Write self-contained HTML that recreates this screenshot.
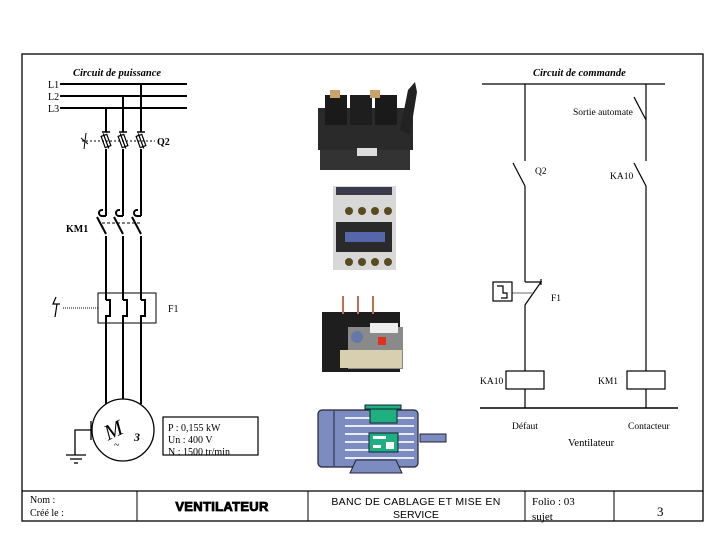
<!DOCTYPE html>
<html><head><meta charset="utf-8"><style>
html,body{margin:0;padding:0;background:#fff;}
svg{display:block;}
text{font-family:"Liberation Serif",serif;fill:#000;}
</style></head><body>
<svg width="728" height="546" viewBox="0 0 728 546" xmlns="http://www.w3.org/2000/svg">
<!-- frame -->
<rect x="22" y="54" width="681" height="467" fill="none" stroke="#000" stroke-width="1.3"/>
<line x1="22" y1="491" x2="703" y2="491" stroke="#000" stroke-width="1.3"/>
<line x1="137" y1="491" x2="137" y2="521" stroke="#000"/>
<line x1="308" y1="491" x2="308" y2="521" stroke="#000"/>
<line x1="525" y1="491" x2="525" y2="521" stroke="#000"/>
<line x1="614" y1="491" x2="614" y2="521" stroke="#000"/>
<text x="30" y="503" font-size="10">Nom :</text>
<text x="30" y="516" font-size="10">Créé le :</text>
<text x="222" y="511" font-size="13" font-weight="bold" text-anchor="middle" stroke="#000" stroke-width="0.8" style="font-family:'Liberation Sans',sans-serif;letter-spacing:0.3px">VENTILATEUR</text>
<text x="416" y="505" font-size="10.5" text-anchor="middle" style="font-family:'Liberation Sans',sans-serif;letter-spacing:0.3px">BANC DE CABLAGE ET MISE EN</text>
<text x="416" y="518" font-size="10.5" text-anchor="middle" style="font-family:'Liberation Sans',sans-serif">SERVICE</text>
<text x="532" y="505" font-size="11">Folio : 03</text>
<text x="532" y="520" font-size="11">sujet</text>
<text x="657" y="516" font-size="13">3</text>

<!-- Power circuit -->
<text x="73" y="76" font-size="10.5" font-weight="bold" font-style="italic">Circuit de puissance</text>
<g font-size="10"><text x="48" y="88">L1</text><text x="48" y="100">L2</text><text x="48" y="112">L3</text></g>
<g stroke="#000" stroke-width="2" fill="none">
<line x1="60" y1="84" x2="187" y2="84"/><line x1="60" y1="96" x2="187" y2="96"/><line x1="60" y1="108" x2="187" y2="108"/>
<line x1="141" y1="84" x2="141" y2="132"/><line x1="123" y1="96" x2="123" y2="132"/><line x1="106" y1="108" x2="106" y2="132"/>
</g>
<g stroke="#000" stroke-width="1.5">
<line x1="102" y1="132" x2="110" y2="132"/><line x1="119" y1="132" x2="127" y2="132"/><line x1="137" y1="132" x2="145" y2="132"/>
</g>
<line x1="82" y1="141" x2="155" y2="141" stroke="#000" stroke-dasharray="2,2"/>
<path d="M86 133 L84 149 M81 138 L88 144" stroke="#000" fill="none"/>
<g fill="none" stroke="#000" stroke-width="1.2">
<g transform="rotate(-20 106 141)"><rect x="103" y="135" width="6" height="12"/><line x1="106" y1="133" x2="106" y2="149"/></g>
<g transform="rotate(-20 123 141)"><rect x="120" y="135" width="6" height="12"/><line x1="123" y1="133" x2="123" y2="149"/></g>
<g transform="rotate(-20 141 141)"><rect x="138" y="135" width="6" height="12"/><line x1="141" y1="133" x2="141" y2="149"/></g>
</g>
<text x="157" y="145" font-size="10" font-weight="bold">Q2</text>
<g stroke="#000" stroke-width="2" fill="none">
<line x1="106" y1="149" x2="106" y2="216"/><line x1="123" y1="149" x2="123" y2="216"/><line x1="141" y1="149" x2="141" y2="216"/>
<path d="M106 216 h-4 a3 3 0 0 1 0 -6 h1"/><path d="M123 216 h-4 a3 3 0 0 1 0 -6 h1"/><path d="M141 216 h-4 a3 3 0 0 1 0 -6 h1"/>
<line x1="97" y1="217" x2="106" y2="234"/><line x1="114" y1="217" x2="123" y2="234"/><line x1="132" y1="217" x2="141" y2="234"/>
<line x1="106" y1="236" x2="106" y2="300"/><line x1="123" y1="236" x2="123" y2="300"/><line x1="141" y1="236" x2="141" y2="300"/>
<path d="M106 300 h4 v16 h-4 v88"/><path d="M123 300 h4 v16 h-4 v84"/><path d="M141 300 h4 v16 h-4 v88"/>
</g>
<line x1="102" y1="223" x2="140" y2="223" stroke="#000" stroke-dasharray="3,2"/>
<text x="66" y="232" font-size="10" font-weight="bold">KM1</text>
<rect x="98" y="293" width="58" height="30" fill="none" stroke="#000" stroke-width="1"/>
<line x1="63" y1="308" x2="98" y2="308" stroke="#000" stroke-dasharray="1,1"/>
<path d="M56 297 L53 304 H60 M57 304 L55 317" stroke="#000" fill="none" stroke-width="1.2"/>
<text x="168" y="312" font-size="10">F1</text>
<!-- motor -->
<circle cx="123" cy="430" r="31" fill="#fff" stroke="#000" stroke-width="1.3"/>
<text x="104" y="438" font-size="22" font-style="italic" transform="rotate(-25 112 430)">M</text>
<text x="134" y="441" font-size="12" font-weight="bold" font-style="italic">3</text>
<text x="114" y="448" font-size="10">~</text>
<g stroke="#000" fill="none" stroke-width="1.3">
<line x1="91" y1="421" x2="91" y2="440"/><path d="M91 430 H75 V455"/>
<line x1="66" y1="455" x2="86" y2="455"/><line x1="70" y1="459" x2="82" y2="459"/><line x1="74" y1="463" x2="78" y2="463"/>
</g>
<rect x="163" y="417" width="95" height="38" fill="none" stroke="#000" stroke-width="1.2"/>
<g font-size="10"><text x="168" y="431">P : 0,155 kW</text><text x="168" y="443">Un : 400 V</text><text x="168" y="455">N : 1500 tr/min</text></g>

<!-- photos -->
<g>
<rect x="318" y="108" width="95" height="42" fill="#2a2a2a"/>
<rect x="325" y="95" width="22" height="30" fill="#1a1a1a"/><rect x="350" y="95" width="22" height="30" fill="#1e1e1e"/><rect x="375" y="95" width="22" height="30" fill="#1a1a1a"/>
<rect x="330" y="90" width="10" height="8" fill="#c9a36a"/><rect x="370" y="90" width="10" height="8" fill="#c9a36a"/>
<path d="M400 130 L408 90 L415 82 L417 92 L410 135 Z" fill="#222"/>
<rect x="320" y="150" width="90" height="20" fill="#333"/><rect x="357" y="148" width="20" height="8" fill="#ddd"/>
<rect x="333" y="186" width="63" height="84" fill="#d8d8d8"/><rect x="336" y="187" width="56" height="8" fill="#3a3a4a"/>
<rect x="336" y="222" width="56" height="30" fill="#2a2a2a"/><rect x="345" y="232" width="40" height="10" fill="#5566aa"/>
<g fill="#5a4a20"><circle cx="349" cy="211" r="4"/><circle cx="362" cy="211" r="4"/><circle cx="375" cy="211" r="4"/><circle cx="388" cy="211" r="4"/>
<circle cx="349" cy="262" r="4"/><circle cx="362" cy="262" r="4"/><circle cx="375" cy="262" r="4"/><circle cx="388" cy="262" r="4"/></g>
<rect x="322" y="312" width="78" height="60" fill="#1e1e1e"/>
<rect x="342" y="296" width="2" height="18" fill="#c07050"/><rect x="357" y="296" width="2" height="18" fill="#c07050"/><rect x="372" y="296" width="2" height="18" fill="#c07050"/>
<rect x="348" y="327" width="55" height="42" fill="#8a8a8a"/><rect x="370" y="323" width="28" height="10" fill="#eee"/>
<circle cx="357" cy="337" r="6" fill="#6677aa"/><rect x="378" y="337" width="8" height="8" fill="#e03020"/>
<rect x="340" y="350" width="62" height="18" fill="#d8ceb0"/>
</g>
<!-- motor image -->
<g>
<rect x="318" y="410" width="100" height="57" rx="4" fill="#7c8cc0" stroke="#223" stroke-width="1.2"/>
<g stroke="#e8ecf8" stroke-width="2"><line x1="345" y1="418" x2="414" y2="418"/><line x1="345" y1="426" x2="414" y2="426"/><line x1="345" y1="434" x2="414" y2="434"/><line x1="345" y1="442" x2="414" y2="442"/><line x1="345" y1="450" x2="414" y2="450"/><line x1="345" y1="458" x2="414" y2="458"/></g>
<line x1="334" y1="411" x2="334" y2="466" stroke="#223"/>
<rect x="420" y="434" width="26" height="8" fill="#7c8cc0" stroke="#223"/>
<path d="M350 473 L356 460 H396 L402 473 Z" fill="#7c8cc0" stroke="#223"/>
<rect x="365" y="405" width="36" height="4" fill="#20b080" stroke="#123"/>
<rect x="370" y="409" width="27" height="14" fill="#20b080" stroke="#123"/>
<rect x="369" y="433" width="29" height="19" fill="#20b080" stroke="#123"/>
<rect x="373" y="436" width="13" height="3" fill="#fff"/><rect x="373" y="445" width="8" height="3" fill="#fff"/><rect x="386" y="442" width="8" height="7" fill="#fff"/>
</g>

<!-- Control circuit -->
<text x="533" y="76" font-size="10.5" font-weight="bold" font-style="italic">Circuit de commande</text>
<g stroke="#000" stroke-width="1.2" fill="none">
<line x1="482" y1="84" x2="665" y2="84"/>
<line x1="525" y1="84" x2="525" y2="161"/><line x1="513" y1="163" x2="525" y2="186"/><line x1="525" y1="186" x2="525" y2="282"/>
<path d="M525 282 H541 L525 305 V371"/>
<line x1="541" y1="279" x2="541" y2="285"/>
<line x1="512" y1="293" x2="533" y2="293" stroke="#888"/>
<rect x="493" y="282" width="19" height="19"/>
<path d="M497 286 H503 V293 H507 V298 H501"/>
<rect x="506" y="371" width="38" height="18"/>
<line x1="525" y1="389" x2="525" y2="408"/>
<line x1="646" y1="84" x2="646" y2="120"/><line x1="634" y1="97" x2="646" y2="120"/><line x1="646" y1="120" x2="646" y2="161"/>
<line x1="634" y1="163" x2="646" y2="186"/><line x1="646" y1="186" x2="646" y2="371"/>
<rect x="627" y="371" width="38" height="18"/>
<line x1="646" y1="389" x2="646" y2="408"/>
<line x1="480" y1="408" x2="678" y2="408" stroke-width="1.5"/>
</g>
<g font-size="9.5">
<text x="573" y="115">Sortie automate</text>
<text x="535" y="174">Q2</text>
<text x="610" y="179">KA10</text>
<text x="551" y="301">F1</text>
<text x="480" y="384">KA10</text>
<text x="598" y="384">KM1</text>
<text x="512" y="429">Défaut</text>
<text x="628" y="429">Contacteur</text>
<text x="568" y="446" font-size="10.5">Ventilateur</text>
</g>
</svg>
</body></html>
